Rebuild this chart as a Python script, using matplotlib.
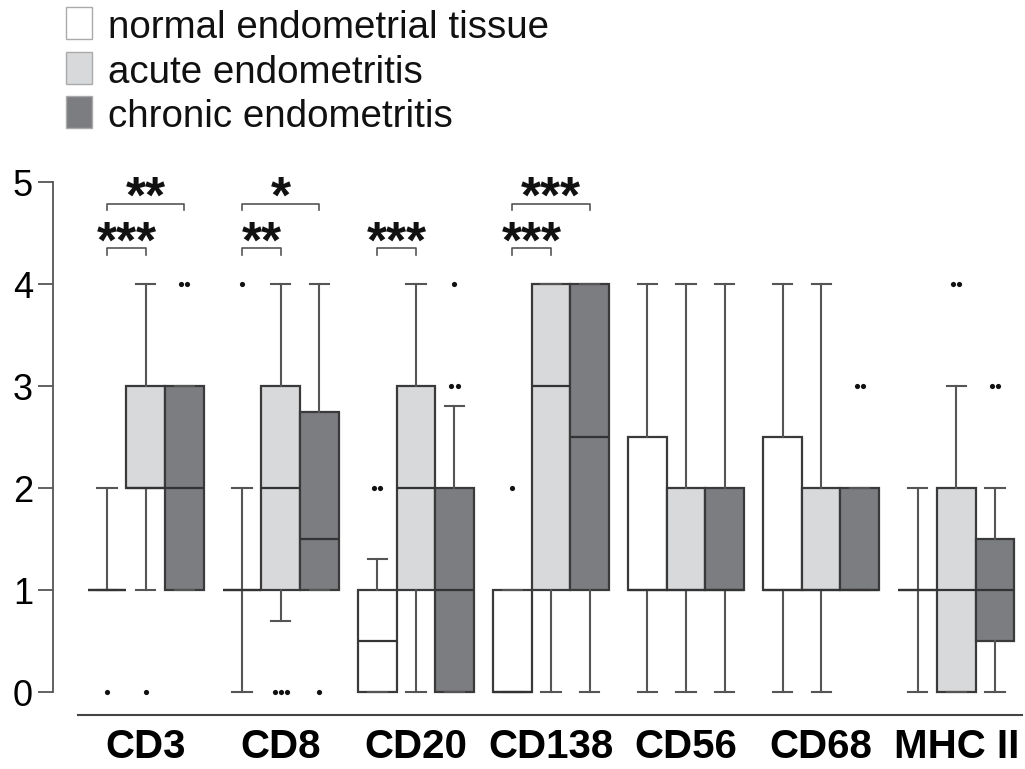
import numpy as np
import matplotlib.pyplot as plt
from matplotlib.patches import Rectangle

plt.rcParams['font.family'] = ['Liberation Sans', 'DejaVu Sans']

markers = ['CD3', 'CD8', 'CD20', 'CD138', 'CD56', 'CD68', 'MHC II']
groups = ['normal endometrial tissue', 'acute endometritis', 'chronic endometritis']
colors = ['#ffffff', '#d8d9db', '#7c7d81']

# per marker: [normal, acute, chronic]
q1 = [[1, 2, 1], [1, 1, 1], [0, 1, 0], [0, 1, 1], [1, 1, 1], [1, 1, 1], [1, 0, 0.5]]
med = [[1, 2, 2], [1, 2, 1.5], [0.5, 2, 1], [0, 3, 2.5], [1, 1, 1], [1, 1, 1], [1, 1, 1]]
q3 = [[1, 3, 3], [1, 3, 2.75], [1, 3, 2], [1, 4, 4], [2.5, 2, 2], [2.5, 2, 2], [1, 2, 1.5]]
whis_lo = [[1, 1, 1], [0, 0.7, 1], [0, 0, 0], [0, 0, 0], [0, 0, 0], [0, 0, 1], [0, 0, 0]]
whis_hi = [[2, 4, 3], [2, 4, 4], [1.3, 4, 2.8], [1, 4, 4], [4, 4, 4], [4, 4, 2], [2, 3, 2]]
# outliers as (value, count)
outliers = [
    [[(0, 1)], [(0, 1)], [(4, 2)]],
    [[(4, 1)], [(0, 3)], [(0, 1)]],
    [[(2, 2)], [], [(3, 2), (4, 1)]],
    [[(2, 1)], [], []],
    [[], [], []],
    [[], [], [(3, 2)]],
    [[], [(4, 2)], [(3, 2)]],
]
# significance: (marker index, group a, group b, label, level)
sig = [
    (0, 0, 1, '***', 0), (0, 0, 2, '**', 1),
    (1, 0, 1, '**', 0), (1, 0, 2, '*', 1),
    (2, 0, 1, '***', 0),
    (3, 0, 1, '***', 0), (3, 0, 2, '***', 1),
]

W, H = 1025, 769
fig = plt.figure(figsize=(W / 100, H / 100), dpi=100)
ax = fig.add_axes([53 / W, (H - 715) / H, 1 - 53 / W, (715 - 177) / H])

step = 3.5
for j in range(3):
    stats = []
    pos = []
    for i in range(len(markers)):
        stats.append(dict(q1=q1[i][j], med=med[i][j], q3=q3[i][j],
                          whislo=whis_lo[i][j], whishi=whis_hi[i][j], fliers=[]))
        pos.append(i * step + j)
    ax.bxp(stats, positions=pos, widths=1.0, capwidths=0.5, patch_artist=True,
           showfliers=False,
           boxprops=dict(facecolor=colors[j], edgecolor='#3a3a3a', linewidth=1.6),
           medianprops=dict(color='#333333', linewidth=1.6),
           whiskerprops=dict(color='#555555', linewidth=1.5),
           capprops=dict(color='#555555', linewidth=1.5))

# outlier dots, repeated values drawn side by side
for i in range(len(markers)):
    for j in range(3):
        for val, n in outliers[i][j]:
            offs = (np.arange(n) - (n - 1) / 2) * 0.16
            ax.scatter(i * step + j + offs, [val] * n, s=14, color='#111111',
                       zorder=5, linewidths=0)

# significance brackets
for i, a, b, lab, lev in sig:
    y = 4.35 + lev * 0.44
    x0, x1 = i * step + a, i * step + b
    ax.plot([x0, x0, x1, x1], [y - 0.06, y, y, y - 0.06], color='#555555', lw=1.2)
    ax.text((x0 + x1) / 2, y - 0.09, lab, ha='center', va='baseline',
            fontsize=37, fontweight='bold', color='#111111')

ax.set_xlim(-1.40, 23.78)
ax.set_ylim(-0.225, 5.05)
ax.set_yticks(range(6))
ax.set_xticks([i * step + 1 for i in range(len(markers))])
ax.set_xticklabels(markers, fontsize=29, fontweight='bold')
ax.tick_params(axis='x', length=0, pad=9)
ax.tick_params(axis='y', length=10.8, width=1.3, color='#555555', labelsize=26, pad=3.6)
for s in ['top', 'right']:
    ax.spines[s].set_visible(False)
ax.spines['left'].set_bounds(0, 5)
ax.spines['left'].set_color('#555555')
ax.spines['left'].set_linewidth(1.3)
ax.spines['bottom'].set_bounds(-0.75, 23.7)
ax.spines['bottom'].set_color('#444444')
ax.spines['bottom'].set_linewidth(1.5)

# legend
tops = [7, 52, 96]
for k in range(3):
    fig.add_artist(Rectangle((66 / W, 1 - (tops[k] + 32) / H), 26 / W, 32 / H,
                             transform=fig.transFigure, facecolor=colors[k],
                             edgecolor='#aaaaaa', linewidth=1.0))
    fig.text(108 / W, 1 - (tops[k] + 31) / H, groups[k], fontsize=27.7,
             va='baseline', ha='left', color='#111111')

fig.savefig('out.png', dpi=100)
